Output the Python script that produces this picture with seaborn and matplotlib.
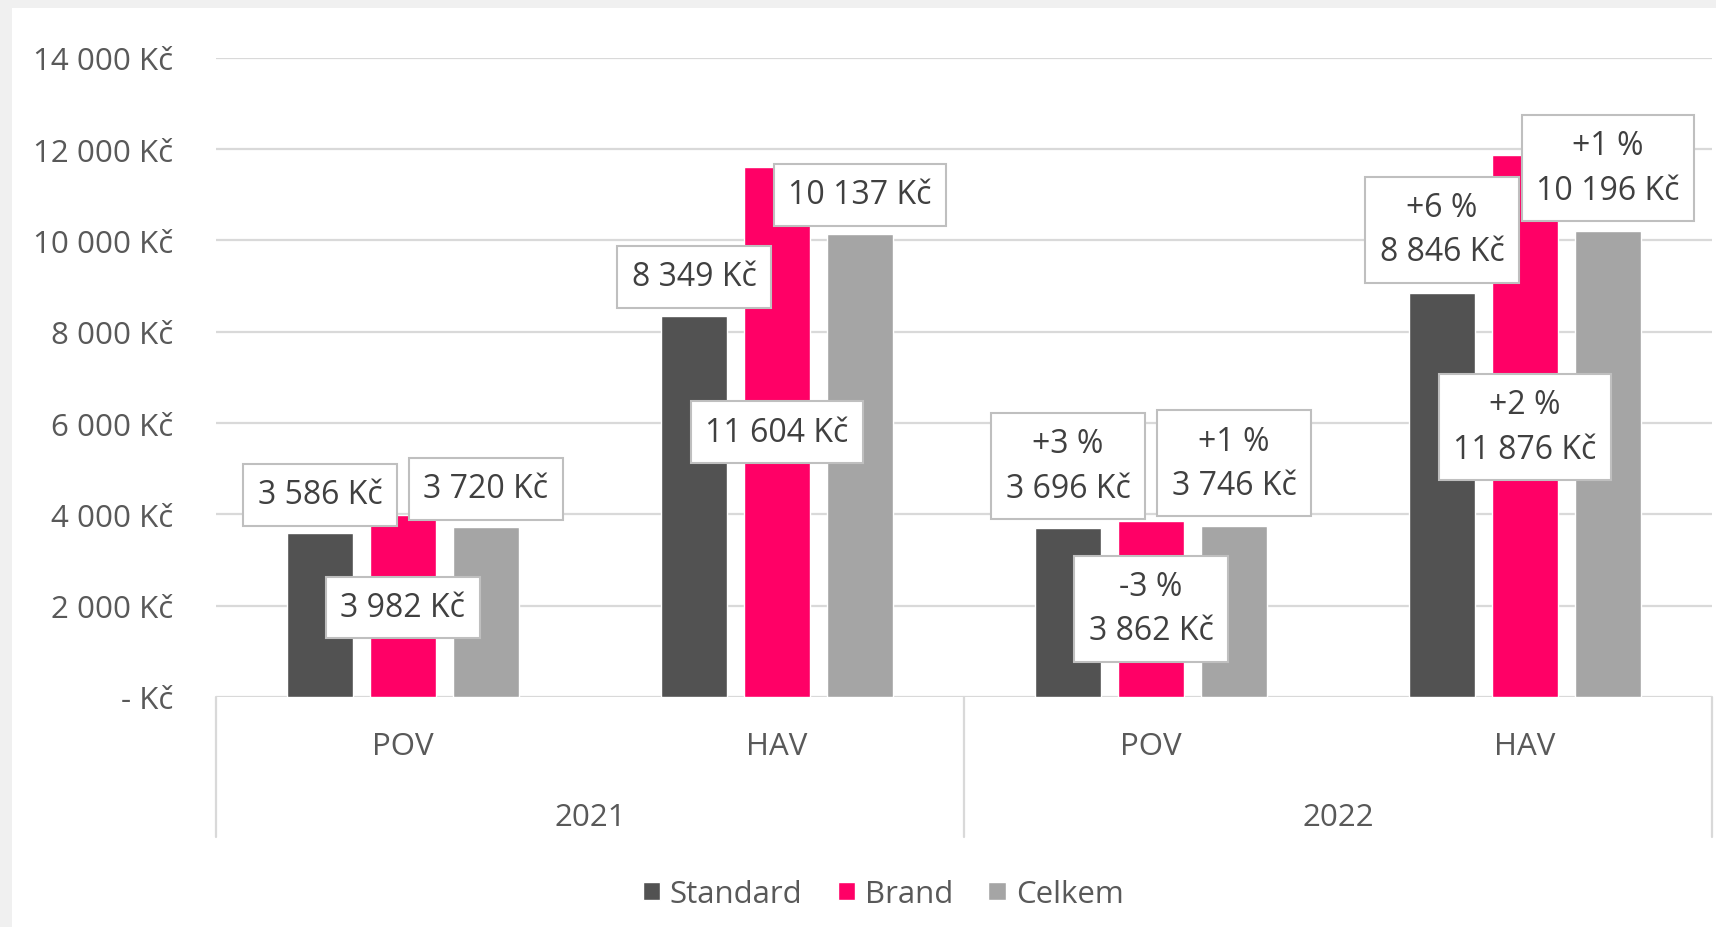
import matplotlib
matplotlib.use('Agg')
import matplotlib.pyplot as plt
import matplotlib.ticker as mticker
import matplotlib.transforms as mtransforms
from matplotlib.patches import Rectangle
import seaborn as sns
import pandas as pd

# --- data ---
slots = ['2021 POV', '2021 HAV', '2022 POV', '2022 HAV']
categories = ['POV', 'HAV', 'POV', 'HAV']
years = ['2021', '2022']
series = ['Standard', 'Brand', 'Celkem']

standard = [3586, 8349, 3696, 8846]
brand = [3982, 11604, 3862, 11876]
celkem = [3720, 10137, 3746, 10196]

# year-on-year change (%), shown only for 2022
standard_chg = [None, None, 3, 6]
brand_chg = [None, None, -3, 2]
celkem_chg = [None, None, 1, 1]

colors = ['#525252', '#ff0066', '#a5a5a5']

# data labels were moved by hand in the original, so keep their heights (Kč)
label_y = {
    'Standard': [4430, 9200, 5060, 10230],
    'Brand': [1960, 5800, 1930, 5910],
    'Celkem': [4560, 11000, 5120, 11585],
}

values = {'Standard': standard, 'Brand': brand, 'Celkem': celkem}
changes = {'Standard': standard_chg, 'Brand': brand_chg, 'Celkem': celkem_chg}

rows = []
for s in series:
    for slot, v in zip(slots, values[s]):
        rows.append({'slot': slot, 'series': s, 'value': v})
df = pd.DataFrame(rows)


def kc(v):
    if v == 0:
        return '- Kč'
    return f'{int(v):,}'.replace(',', ' ') + ' Kč'


sns.set_style('white')
plt.rcParams['font.family'] = ['Open Sans', 'DejaVu Sans']
FS = 22.5
LFS = 23
AXIS_COLOR = '#595959'
LABEL_COLOR = '#404040'
GRID = '#d9d9d9'

W, H = 1716, 928
fig = plt.figure(figsize=(W / 100, H / 100), dpi=100)
fig.patch.set_facecolor('#f0f0f0')
fig.add_artist(Rectangle((12 / W, 0), 1, 1 - 9 / H, transform=fig.transFigure,
                         facecolor='white', edgecolor='none', zorder=-10))

ax = fig.add_axes([216 / W, (H - 698) / H, (1712 - 216) / W, (698 - 58.7) / H])
ax.set_facecolor('none')

sns.barplot(data=df, x='slot', y='value', hue='series', order=slots, hue_order=series,
            palette=colors, saturation=1, width=0.666, gap=0.207, errorbar=None, ax=ax)

ax.set_xlim(-0.5, 3.5)
ax.set_ylim(0, 14000)
ax.set_yticks(range(0, 14001, 2000))
ax.yaxis.set_major_formatter(mticker.FuncFormatter(lambda v, p: kc(v)))
ax.tick_params(axis='y', length=0, pad=31, labelsize=FS, labelcolor=AXIS_COLOR)
ax.set_xticks([])
ax.set_xlabel('')
ax.set_ylabel('')
for sp in ax.spines.values():
    sp.set_visible(False)
ax.yaxis.grid(True, color=GRID, linewidth=1.6)
ax.set_axisbelow(True)

# category / year axis below the plot
trans = mtransforms.blended_transform_factory(ax.transData, ax.transAxes)
for x in [-0.5, 1.5, 3.5]:
    ax.plot([x, x], [0, -0.219], transform=trans, color=GRID, lw=1.6, clip_on=False)
for i, c in enumerate(categories):
    ax.text(i, -0.077, c, transform=trans, ha='center', va='center',
            fontsize=FS, color=AXIS_COLOR)
for j, y in enumerate(years):
    ax.text(2 * j + 0.5, -0.188, y, transform=trans, ha='center', va='center',
            fontsize=FS, color=AXIS_COLOR)

# data labels in boxes
for s, cont in zip(series, ax.containers):
    for k, bar in enumerate(cont):
        xc = bar.get_x() + bar.get_width() / 2
        txt = kc(values[s][k])
        chg = changes[s][k]
        if chg is not None:
            txt = f'{chg:+d} %\n' + txt
        ax.text(xc, label_y[s][k], txt, ha='center', va='center', fontsize=LFS,
                color=LABEL_COLOR, linespacing=1.45, zorder=5,
                bbox=dict(boxstyle='square,pad=0.45', facecolor='white',
                          edgecolor='#bfbfbf', linewidth=1.5))

sns.move_legend(ax, 'center', bbox_to_anchor=(883 / W, 1 - 895 / H),
                bbox_transform=fig.transFigure, ncol=3, frameon=False, title=None,
                fontsize=FS, handlelength=0.55, handleheight=0.55,
                handletextpad=0.32, columnspacing=1.13, labelcolor=AXIS_COLOR)

fig.savefig('out.png', dpi=100)
plt.close(fig)
